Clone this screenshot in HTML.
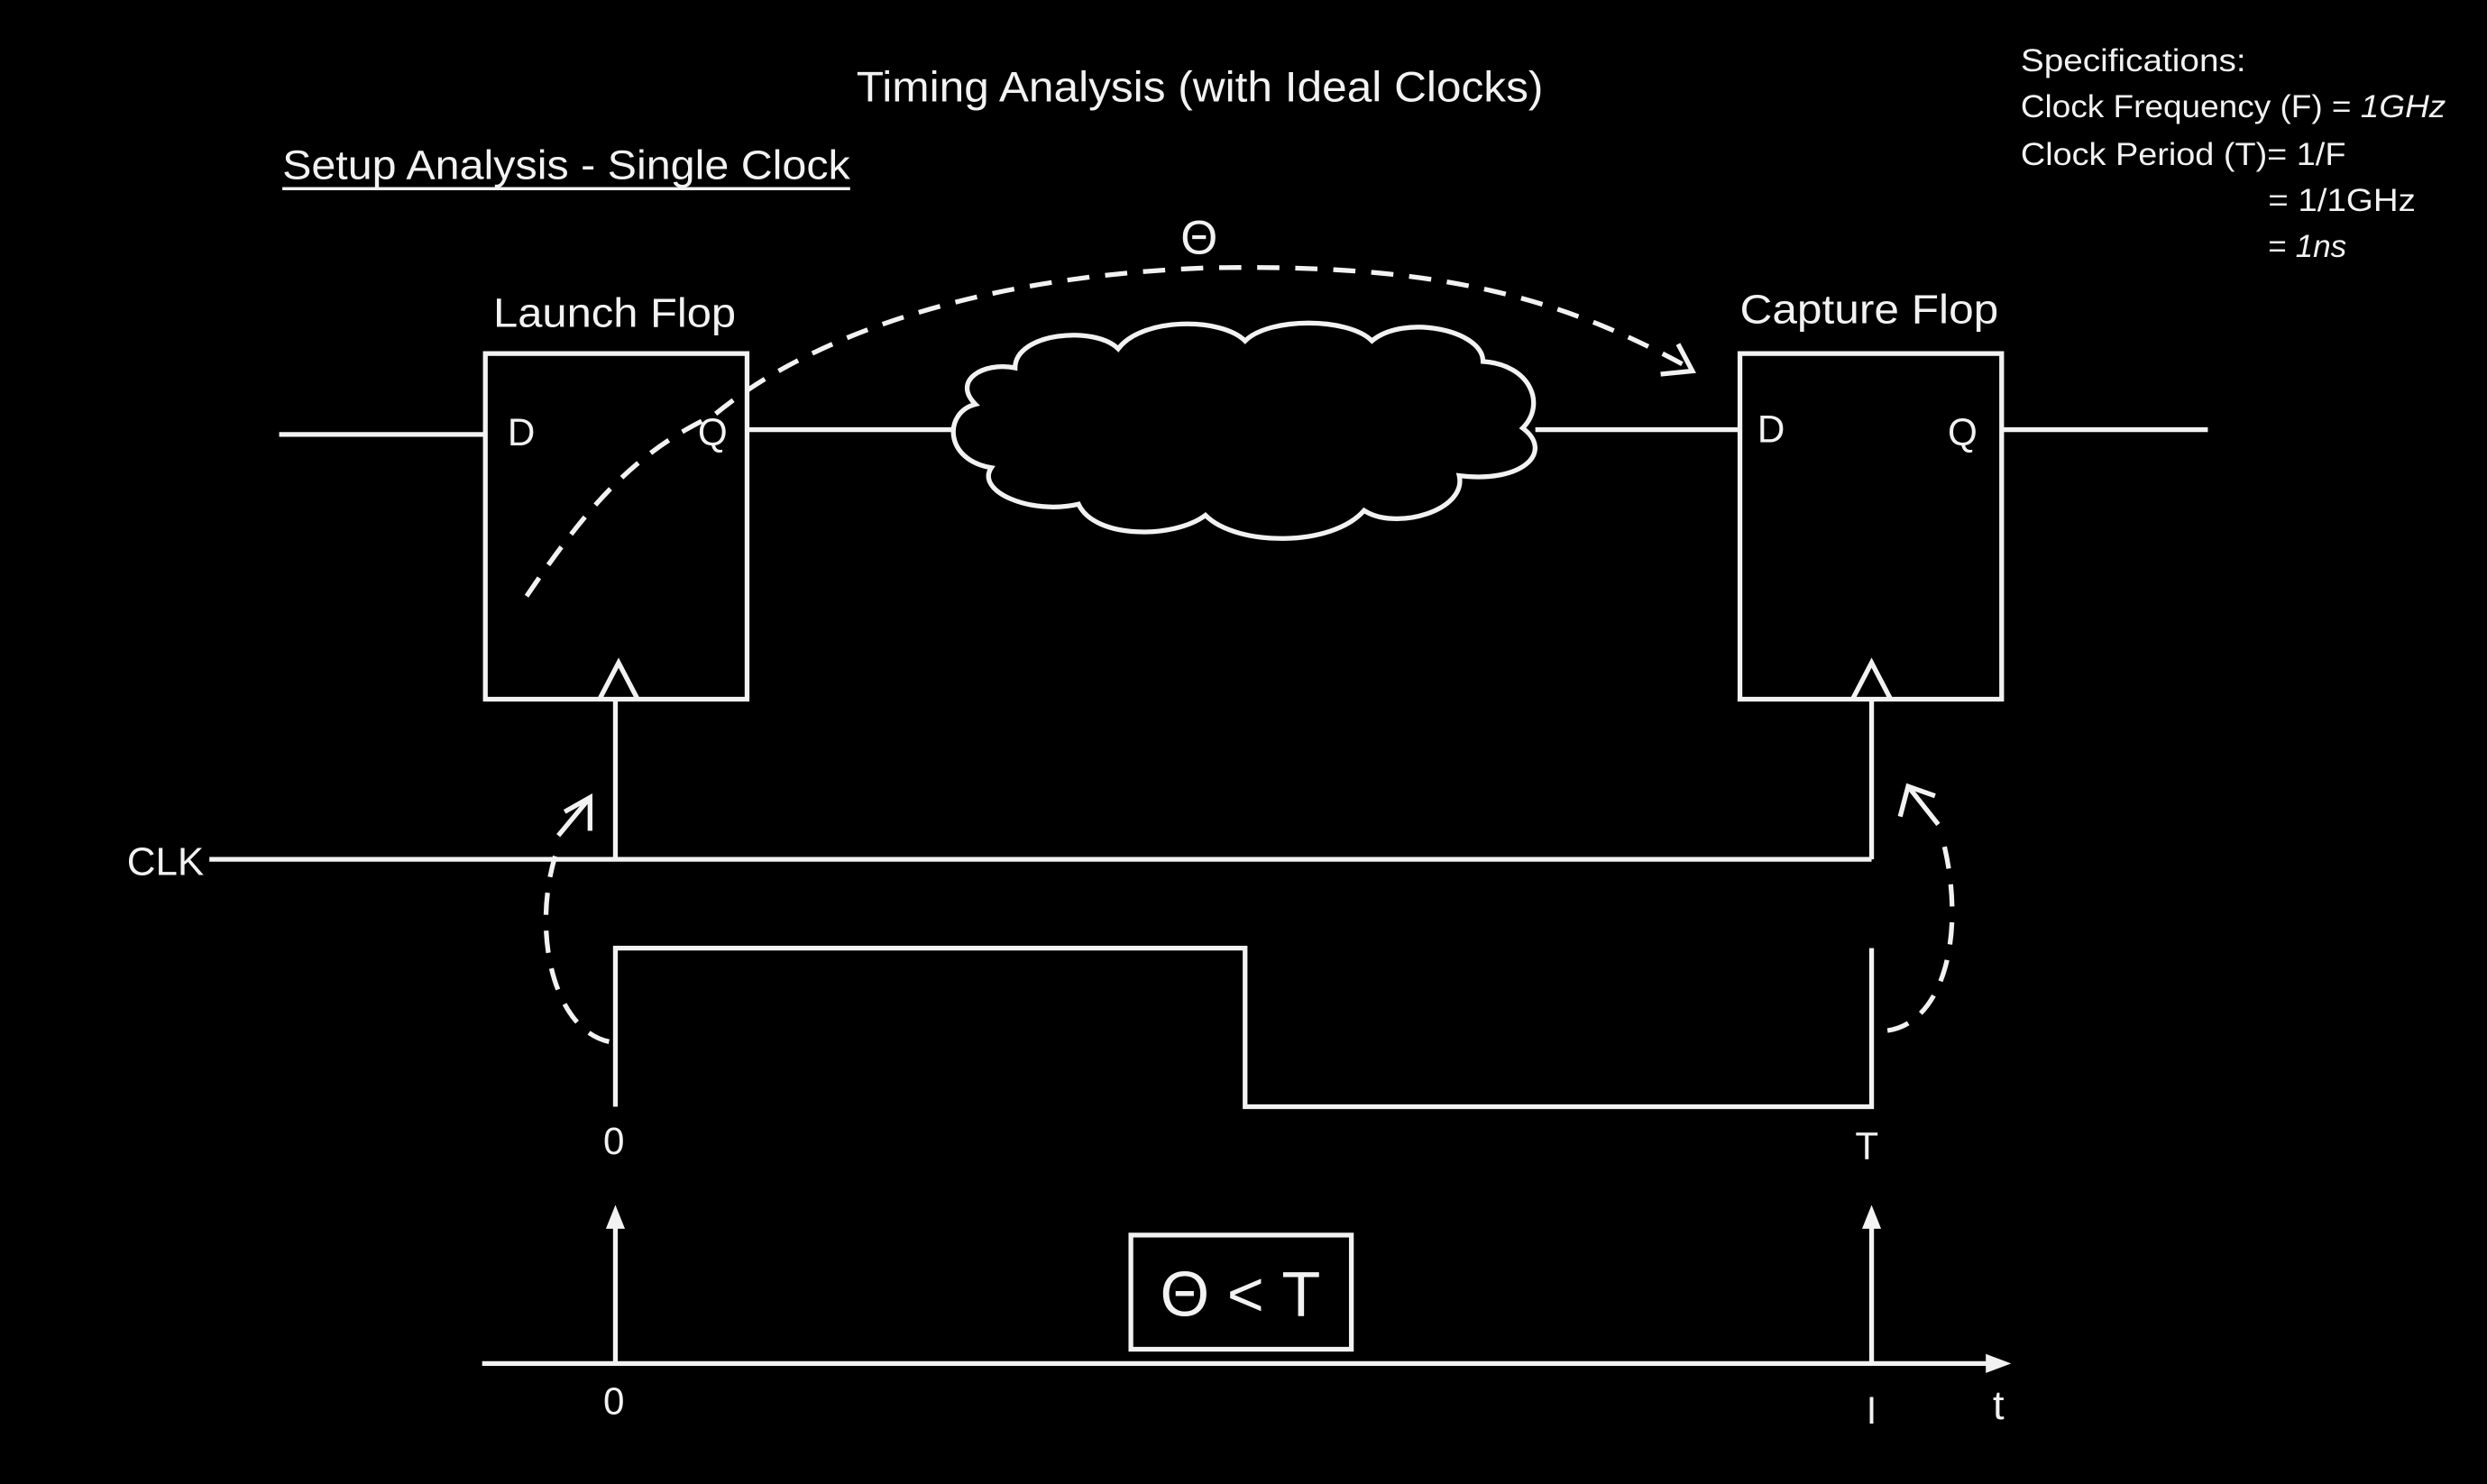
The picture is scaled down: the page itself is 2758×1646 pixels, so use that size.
<!DOCTYPE html>
<html><head><meta charset="utf-8"><style>
html,body{margin:0;padding:0;background:#000;}
svg{display:block;}
text{fill:#f2f2f2;font-family:"Liberation Sans","DejaVu Sans",sans-serif;}
</style></head><body>
<svg width="2758" height="1646" viewBox="0 0 1568 936" preserveAspectRatio="none" xmlns="http://www.w3.org/2000/svg">
<rect width="1568" height="936" fill="#000"/>
<g stroke="#f2f2f2" stroke-width="3" fill="none">
<rect x="306" y="223" width="165" height="218"/>
<rect x="1097" y="223" width="165" height="218"/>
<polyline points="378,441 390,418 402,441"/>
<polyline points="1168,441 1180,418 1192,441"/>
<line x1="176" y1="274" x2="306" y2="274"/>
<line x1="471" y1="271" x2="602" y2="271"/>
<line x1="968" y1="271" x2="1097" y2="271"/>
<line x1="1262" y1="271" x2="1392" y2="271"/>
<path d="M640,232 C640,210 690,205 705,220 C720,200 770,200 785,215 C800,200 850,200 865,215 C885,198 935,208 935,228 C965,230 975,255 960,270 C980,285 960,305 920,300 C925,322 880,335 860,322 C840,345 780,345 760,325 C740,340 690,340 680,318 C650,325 615,310 625,295 C595,290 595,260 615,255 C600,240 620,228 640,232 Z"/>
<path d="M332,376 C370,320 400,285 450,262 C500,220 600,175 760,169 C900,166 980,185 1065,232" stroke-dasharray="14,10"/>
<polyline points="1047,236 1067,234 1058,217"/>
<line x1="132" y1="542" x2="1180" y2="542"/>
<line x1="388" y1="441" x2="388" y2="542"/>
<line x1="1180" y1="441" x2="1180" y2="542"/>
<polyline points="388,698 388,598 785,598 785,698 1180,698 1180,598"/>
<path d="M384,657 C350,650 335,590 350,540" stroke-dasharray="14,10"/>
<path d="M352,527 L372,503" /><polyline points="356,512 372,503 372,524"/>
<path d="M1190,650 C1225,645 1240,590 1225,530" stroke-dasharray="14,10"/>
<path d="M1222,520 L1203,496"/><polyline points="1198,515 1203,496 1220,502"/>
<line x1="304" y1="860" x2="1258" y2="860"/>
<line x1="388" y1="860" x2="388" y2="768"/>
<line x1="1180" y1="860" x2="1180" y2="768"/>
<rect x="713" y="779" width="139" height="72"/>
</g>
<g fill="#f2f2f2">
<polygon points="1268,860 1252,854 1252,866"/>
<polygon points="388,760 382,775 394,775"/>
<polygon points="1180,760 1174,775 1186,775"/>
</g>
<text x="540" y="64" font-size="27" textLength="433" lengthAdjust="spacingAndGlyphs">Timing Analysis (with Ideal Clocks)</text>
<text x="178" y="113" font-size="26" textLength="358" lengthAdjust="spacingAndGlyphs">Setup Analysis - Single Clock</text>
<line x1="178" y1="119" x2="536" y2="119" stroke="#f2f2f2" stroke-width="2"/>
<text x="1274" y="45" font-size="20" textLength="142" lengthAdjust="spacingAndGlyphs">Specifications:</text>
<text x="1274" y="74" font-size="20" textLength="268" lengthAdjust="spacingAndGlyphs">Clock Frequency (F) = <tspan font-style="italic">1GHz</tspan></text>
<text x="1274" y="104" font-size="20" textLength="205" lengthAdjust="spacingAndGlyphs">Clock Period (T)= 1/F</text>
<text x="1430" y="133" font-size="20" textLength="93" lengthAdjust="spacingAndGlyphs">= 1/1GHz</text>
<text x="1430" y="162" font-size="20">= <tspan font-style="italic">1ns</tspan></text>
<text x="756" y="160" font-size="30" text-anchor="middle">Θ</text>
<text x="311" y="206" font-size="26" textLength="153" lengthAdjust="spacingAndGlyphs">Launch Flop</text>
<text x="1097" y="204" font-size="26" textLength="163" lengthAdjust="spacingAndGlyphs">Capture Flop</text>
<text x="320" y="281" font-size="24">D</text>
<text x="440" y="281" font-size="24">Q</text>
<text x="1108" y="279" font-size="24">D</text>
<text x="1228" y="281" font-size="24">Q</text>
<text x="80" y="552" font-size="25">CLK</text>
<text x="387" y="728" font-size="24" text-anchor="middle">0</text>
<text x="1177" y="731" font-size="24" text-anchor="middle">T</text>
<text x="782" y="830" font-size="40" text-anchor="middle">Θ &lt; T</text>
<text x="387" y="892" font-size="24" text-anchor="middle">0</text>
<text x="1180" y="898" font-size="24" text-anchor="middle">I</text>
<text x="1260" y="895" font-size="26" text-anchor="middle">t</text>
</svg>
</body></html>
